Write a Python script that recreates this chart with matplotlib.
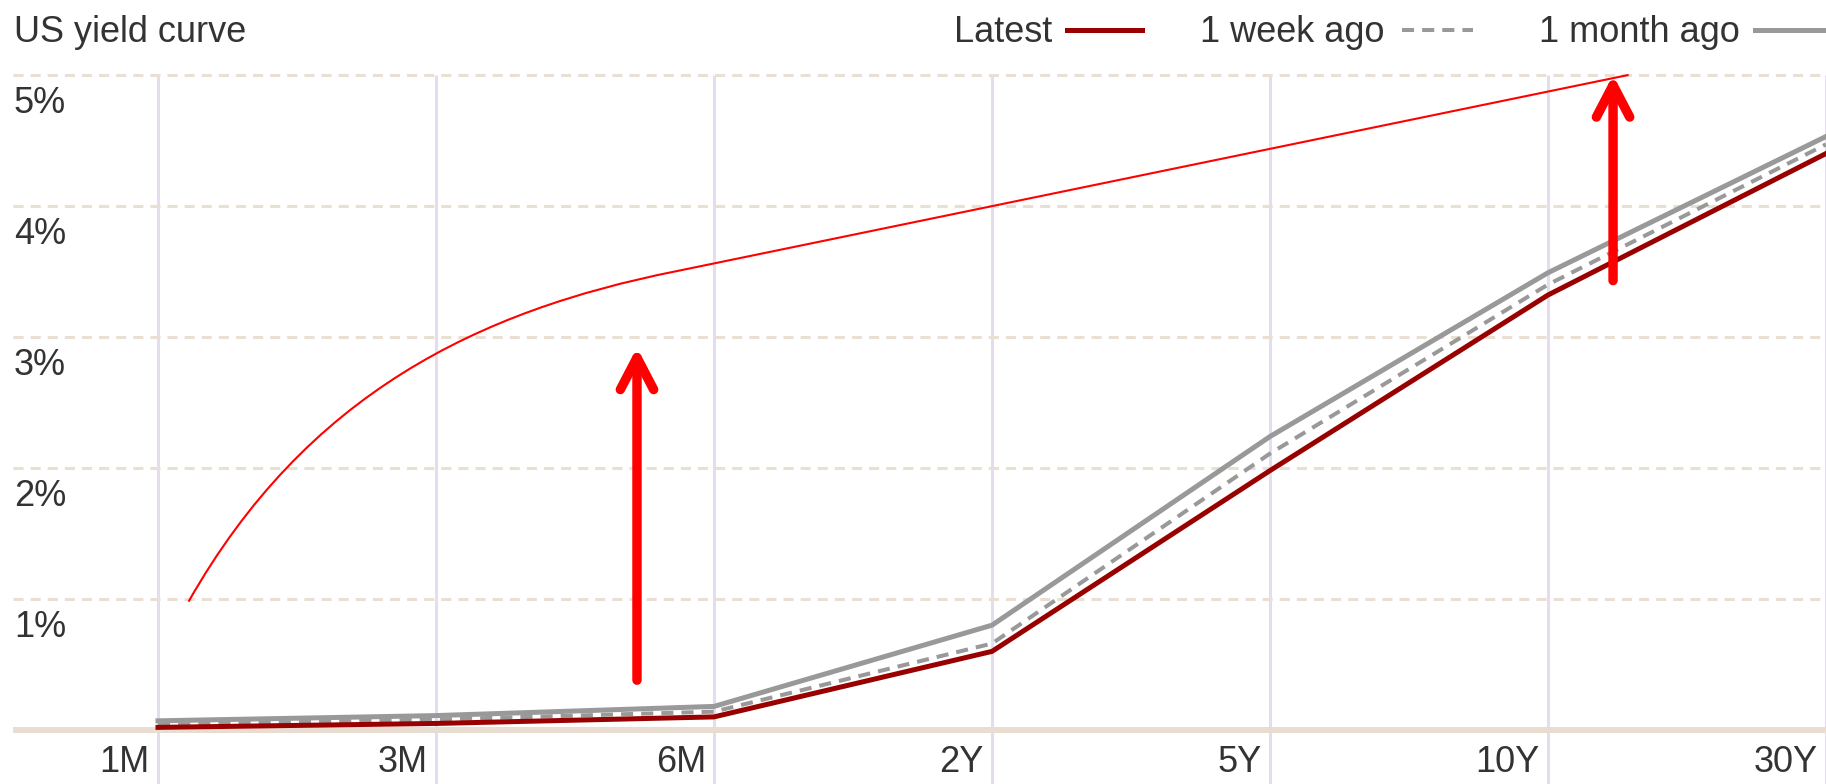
import matplotlib
matplotlib.use("Agg")
import matplotlib.pyplot as plt
from matplotlib.lines import Line2D
from matplotlib.path import Path
from matplotlib.patches import PathPatch, FancyArrowPatch

plt.rcParams['font.family'] = ['Liberation Sans', 'DejaVu Sans']

tenors = ["1M", "3M", "6M", "2Y", "5Y", "10Y", "30Y"]
latest = [0.02, 0.05, 0.10, 0.60, 1.98, 3.32, 4.40]
week_ago = [0.04, 0.08, 0.14, 0.66, 2.11, 3.40, 4.47]
month_ago = [0.07, 0.11, 0.18, 0.80, 2.24, 3.49, 4.53]
y_ticks = [1, 2, 3, 4, 5]
y_labels = ["1%", "2%", "3%", "4%", "5%"]

# hand-drawn markup over the chart, in data units
sketch_curve = [(0.11, 0.98), (0.535, 2.57), (1.155, 3.20), (1.86, 3.50), (5.29, 5.00)]
up_arrows = [((1.723, 0.38), (1.723, 2.92)), ((5.234, 3.43), (5.234, 5.00))]

W, H = 1826, 784
TXT = "#333333"
RED_DARK = "#990000"
GREY = "#999999"
GRID_H = "#eadfd3"
GRID_V = "#e6dcef"


def fx(px):
    return px / W


def fy(py):
    return 1 - py / H


fig = plt.figure(figsize=(W / 100, H / 100), dpi=100)
ax = fig.add_axes([0, 0, 1, (H - 71) / H])
ax.set_xlim(-158 / 278, 6.0)
ax.set_ylim(-54 / 131, 5.03)
ax.axis('off')

x = list(range(len(tenors)))

# grid
ax.vlines(x, -0.42, 5.0, color=GRID_V, lw=2.2, zorder=1)
ax.hlines(y_ticks, -0.52, 6.0, color=GRID_H, lw=2.2, linestyles=(0, (3.3, 2.3)), zorder=1)
ax.hlines(0, -0.52, 6.0, color="#e8ddd0", lw=4.3, zorder=1)

for yt, lab in zip(y_ticks, y_labels):
    ax.text(-0.518, yt - 0.29, lab, fontsize=26, color=TXT, ha='left', va='baseline')
for xi, lab in zip(x, tenors):
    ax.text(xi - 0.029, -0.32, lab, fontsize=26, color=TXT, ha='right', va='baseline')

# curves
ax.plot(x, month_ago, color=GREY, lw=3.6, solid_joinstyle='miter', zorder=3)
ax.plot(x, week_ago, color=GREY, lw=2.9, dashes=(3, 2), zorder=4)
ax.plot(x, latest, color=RED_DARK, lw=3.6, zorder=5)

# red markup: bezier curve into a straight line, plus arrows
codes = [Path.MOVETO, Path.CURVE4, Path.CURVE4, Path.CURVE4, Path.LINETO]
ax.add_patch(PathPatch(Path(sketch_curve, codes), fill=False, edgecolor="red",
                       lw=1.5, zorder=6, clip_on=False))
for start, end in up_arrows:
    arr = FancyArrowPatch(start, end, arrowstyle="->,head_length=2.3,head_width=1.2",
                          mutation_scale=10, color="red", lw=6.8,
                          shrinkA=0, shrinkB=0, zorder=7, clip_on=False)
    arr.set_capstyle('round')
    arr.set_joinstyle('round')
    ax.add_patch(arr)

# title and legend
fig.text(fx(14), fy(42), "US yield curve", fontsize=26, color=TXT, va='baseline')
legend_items = [
    ("Latest", 1052, (1067, 1142), dict(color=RED_DARK, lw=3.6)),
    ("1 week ago", 1384, (1402, 1473), dict(color=GREY, lw=2.9, dashes=(3, 2))),
    ("1 month ago", 1740, (1755, 1830), dict(color=GREY, lw=3.6)),
]
for label, x_end, (s0, s1), style in legend_items:
    fig.text(fx(x_end), fy(42), label, fontsize=26, color=TXT, ha='right', va='baseline')
    fig.add_artist(Line2D([fx(s0), fx(s1)], [fy(30), fy(30)],
                          transform=fig.transFigure, **style))

fig.savefig("out.png", dpi=100)
